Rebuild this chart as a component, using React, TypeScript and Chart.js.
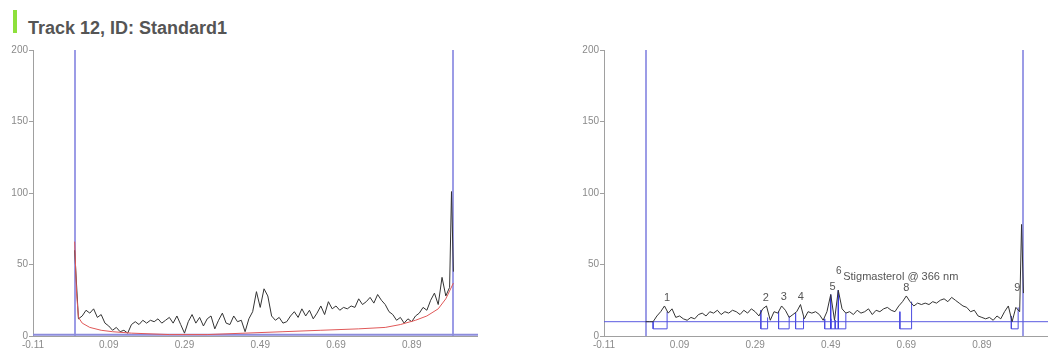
import React, { useEffect, useRef } from "react";
import { Chart, registerables } from "chart.js";

Chart.register(...registerables);

const FONT = '"Liberation Sans", Arial, sans-serif';

// axis
const xMin = -0.11;
const xMax = 1.065;
const xTickValues = [-0.11, 0.09, 0.29, 0.49, 0.69, 0.89];
const yMin = 0;
const yMax = 200;
const yStep = 50;

// scan positions (Rf)
const scanX = [
  0.0, 0.01, 0.02, 0.03, 0.04, 0.05, 0.06, 0.07, 0.08, 0.09,
  0.1, 0.11, 0.12, 0.13, 0.14, 0.15, 0.16, 0.17, 0.18, 0.19,
  0.2, 0.21, 0.22, 0.23, 0.24, 0.25, 0.26, 0.27, 0.28, 0.29,
  0.3, 0.31, 0.32, 0.33, 0.34, 0.35, 0.36, 0.37, 0.38, 0.39,
  0.4, 0.41, 0.42, 0.43, 0.44, 0.45, 0.46, 0.47, 0.48, 0.49,
  0.5, 0.51, 0.52, 0.53, 0.54, 0.55, 0.56, 0.57, 0.58, 0.59,
  0.6, 0.61, 0.62, 0.63, 0.64, 0.65, 0.66, 0.67, 0.68, 0.69,
  0.7, 0.71, 0.72, 0.73, 0.74, 0.75, 0.76, 0.77, 0.78, 0.79,
  0.8, 0.81, 0.82, 0.83, 0.84, 0.85, 0.86, 0.87, 0.88, 0.89,
  0.9, 0.91, 0.92, 0.93, 0.94, 0.95, 0.96, 0.97, 0.98, 0.99,
  0.995, 1.0,
];

// left panel: raw densitogram
const rawSignal = [
  60, 12, 14, 18, 16, 19, 13, 15, 9, 7,
  4, 6, 3, 4, 2, 8, 10, 8, 11, 9,
  11, 10, 12, 9, 11, 13, 9, 14, 8, 2,
  10, 15, 9, 13, 7, 12, 14, 5, 11, 16,
  9, 8, 14, 10, 11, 3, 12, 17, 31, 20,
  33, 28, 14, 11, 13, 9, 10, 14, 17, 13,
  19, 14, 18, 12, 16, 21, 15, 24, 19, 21,
  18, 20, 19, 21, 20, 26, 22, 24, 27, 23,
  29, 25, 22, 17, 15, 11, 13, 9, 12, 10,
  14, 16, 20, 18, 25, 30, 22, 41, 28, 34,
  101, 45,
];

// left panel: baseline (red)
const baselineX = [0, 0.005, 0.01, 0.02, 0.04, 0.07, 0.1, 0.15, 0.25, 0.35, 0.45, 0.55, 0.65, 0.75, 0.82, 0.86, 0.9, 0.93, 0.96, 0.98, 1.0];
const baselineY = [66, 30, 13, 9, 6, 4, 3, 2, 1, 1, 2, 3, 4, 5, 6, 8, 11, 14, 19, 26, 37];

// right panel: processed densitogram
const corrSignal = [
  10, 10, 10, 14, 17, 21, 16, 19, 13, 14,
  12, 11, 13, 12, 15, 16, 14, 17, 16, 18,
  15, 17, 16, 18, 17, 15, 18, 16, 19, 17,
  14, 19, 21, 11, 17, 16, 21, 18, 13, 15,
  17, 22, 12, 17, 16, 17, 15, 11, 17, 29,
  11, 32, 19, 16, 17, 15, 18, 16, 17, 19,
  15, 18, 17, 19, 20, 18, 17, 21, 24, 28,
  24, 21, 23, 22, 23, 22, 24, 23, 25, 26,
  24, 27, 25, 23, 21, 20, 17, 18, 14, 13,
  12, 13, 11, 14, 12, 17, 21, 10, 20, 17,
  78, 30,
];

const markerLines = [0, 1.0]; // start line and solvent front
const threshold = 10;
const rawBaseLevel = 0.8;

// peak integration boxes (right panel)
const boxStart = [0.02, 0.305, 0.352, 0.397, 0.474, 0.49, 0.502, 0.673, 0.968];
const boxEnd = [0.057, 0.323, 0.38, 0.418, 0.49, 0.502, 0.53, 0.704, 0.986];
const boxStartTop = [10, 18, 17, 16, 12, 12, 11, 17, 14];
const boxEndTop = [17, 13, 14, 13, 12, 11, 16, 24, 20];
const boxBottom = 5;
const markerX = [0.49, 0.51];
const markerTop = [29, 32];

// peak labels
const peakLabels = ["1", "2", "3", "4", "5", "8", "9"];
const peakLabelX = [0.057, 0.318, 0.366, 0.411, 0.495, 0.69, 0.984];
const peakLabelY = [26.5, 26.5, 27, 27, 34, 33.5, 33.5];
const compoundNumber = "6";
const compoundName = "Stigmasterol @ 366 nm";
const compoundNumX = 0.511;
const compoundNumY = 45;
const compoundNameX = 0.523;
const compoundNameY = 41;

const pts = (xs: number[], ys: number[]) => xs.map((x, i) => ({ x, y: ys[i] }));

function lineDs(data: any[], color: string, width = 1) {
  return {
    data,
    borderColor: color,
    backgroundColor: color,
    borderWidth: width,
    pointRadius: 0,
    pointHoverRadius: 0,
    fill: false,
    tension: 0,
    clip: false,
  };
}

function makeOptions() {
  return {
    responsive: false,
    animation: false,
    devicePixelRatio: 1,
    layout: { padding: { top: 20, right: 0, left: 0, bottom: 0 } },
    plugins: { legend: { display: false }, tooltip: { enabled: false }, colors: { enabled: false } },
    scales: {
      x: {
        type: "linear",
        min: xMin,
        max: xMax,
        afterBuildTicks: (s: any) => {
          s.ticks = xTickValues.map((v) => ({ value: v }));
        },
        afterFit: (s: any) => {
          s.height = 17;
        },
        grid: { display: true, drawOnChartArea: false, drawTicks: false },
        border: { display: true, color: "#a0a0a0", width: 1 },
        ticks: {
          padding: 3,
          color: "#8a8a8a",
          font: { size: 10, family: FONT },
          maxRotation: 0,
          autoSkip: false,
          callback: (v: any) => Number(v).toFixed(2),
        },
      },
      y: {
        type: "linear",
        min: yMin,
        max: yMax,
        afterFit: (s: any) => {
          s.width = 33;
        },
        grid: { display: true, drawOnChartArea: false, drawTicks: true, tickLength: 4, color: "#a0a0a0" },
        border: { display: true, color: "#a0a0a0", width: 1 },
        ticks: {
          stepSize: yStep,
          padding: 1,
          color: "#8a8a8a",
          font: { size: 10, family: FONT },
        },
      },
    },
  };
}

// start / front vertical lines, drawn through the scales (under the data)
const verticalPlugin = {
  id: "verticals",
  beforeDatasetsDraw(chart: any) {
    const { ctx } = chart;
    const xs = chart.scales.x;
    const ys = chart.scales.y;
    ctx.save();
    ctx.fillStyle = "#9c9ce6";
    const top = ys.getPixelForValue(yMax);
    const bottom = ys.getPixelForValue(yMin);
    markerLines.forEach((v) => {
      const px = Math.round(xs.getPixelForValue(v) - 1);
      ctx.fillRect(px, top, 2, bottom - top);
    });
    ctx.restore();
  },
};

const labelPlugin = {
  id: "peakLabels",
  afterDatasetsDraw(chart: any) {
    const { ctx } = chart;
    const xs = chart.scales.x;
    const ys = chart.scales.y;
    ctx.save();
    ctx.fillStyle = "#555555";
    ctx.font = `11px ${FONT}`;
    ctx.textAlign = "center";
    ctx.textBaseline = "middle";
    peakLabels.forEach((t, i) => {
      ctx.fillText(t, xs.getPixelForValue(peakLabelX[i]), ys.getPixelForValue(peakLabelY[i]));
    });
    ctx.font = `10px ${FONT}`;
    ctx.fillText(compoundNumber, xs.getPixelForValue(compoundNumX), ys.getPixelForValue(compoundNumY));
    ctx.font = `11px ${FONT}`;
    ctx.textAlign = "left";
    ctx.fillText(compoundName, xs.getPixelForValue(compoundNameX), ys.getPixelForValue(compoundNameY));
    ctx.restore();
  },
};

function leftConfig(): any {
  return {
    type: "line",
    data: {
      datasets: [
        lineDs(pts(baselineX, baselineY), "#e05858", 1),
        lineDs(pts(scanX, rawSignal), "#333333", 1),
        lineDs([{ x: xMin, y: rawBaseLevel }, { x: xMax, y: rawBaseLevel }], "#8c8cdc", 2),
      ],
    },
    options: makeOptions(),
    plugins: [verticalPlugin],
  };
}

function rightConfig(): any {
  const boxes = boxStart.map((s, i) =>
    lineDs(
      [
        { x: s, y: boxStartTop[i] },
        { x: s, y: boxBottom },
        { x: boxEnd[i], y: boxBottom },
        { x: boxEnd[i], y: boxEndTop[i] },
      ],
      "#4c4ce0",
      1
    )
  );
  const markers = markerX.map((m, i) =>
    lineDs([{ x: m, y: boxBottom }, { x: m, y: markerTop[i] }], "#3a3ae0", 1.5)
  );
  return {
    type: "line",
    data: {
      datasets: [
        lineDs(pts(scanX, corrSignal), "#333333", 1),
        ...markers,
        ...boxes,
        lineDs([{ x: xMin, y: threshold }, { x: xMax, y: threshold }], "#5a5ae0", 1),
      ],
    },
    options: makeOptions(),
    plugins: [verticalPlugin, labelPlugin],
  };
}

function ChartBox(props: { left: number; top: number; width: number; height: number; make: () => any }) {
  const ref = useRef<HTMLCanvasElement | null>(null);
  useEffect(() => {
    if (!ref.current) return;
    const chart = new Chart(ref.current, props.make());
    return () => chart.destroy();
  }, []);
  return (
    <canvas
      ref={ref}
      width={props.width}
      height={props.height}
      style={{
        position: "absolute",
        left: props.left,
        top: props.top,
        width: props.width,
        height: props.height,
      }}
    />
  );
}

export default function App() {
  return (
    <div
      style={{
        position: "absolute",
        left: 0,
        top: 0,
        width: 1048,
        height: 353,
        background: "#ffffff",
        overflow: "hidden",
        fontFamily: FONT,
      }}
    >
      <div
        style={{
          position: "absolute",
          left: 13,
          top: 10,
          width: 4,
          height: 23,
          background: "#8ee03c",
        }}
      />
      <div
        style={{
          position: "absolute",
          left: 28,
          top: 19,
          fontSize: 18,
          lineHeight: "18px",
          fontWeight: "bold",
          color: "#555555",
          whiteSpace: "nowrap",
        }}
      >
        Track 12, ID: Standard1
      </div>
      <ChartBox left={0} top={30} width={478} height={323} make={leftConfig} />
      <ChartBox left={571} top={30} width={477} height={323} make={rightConfig} />
    </div>
  );
}
